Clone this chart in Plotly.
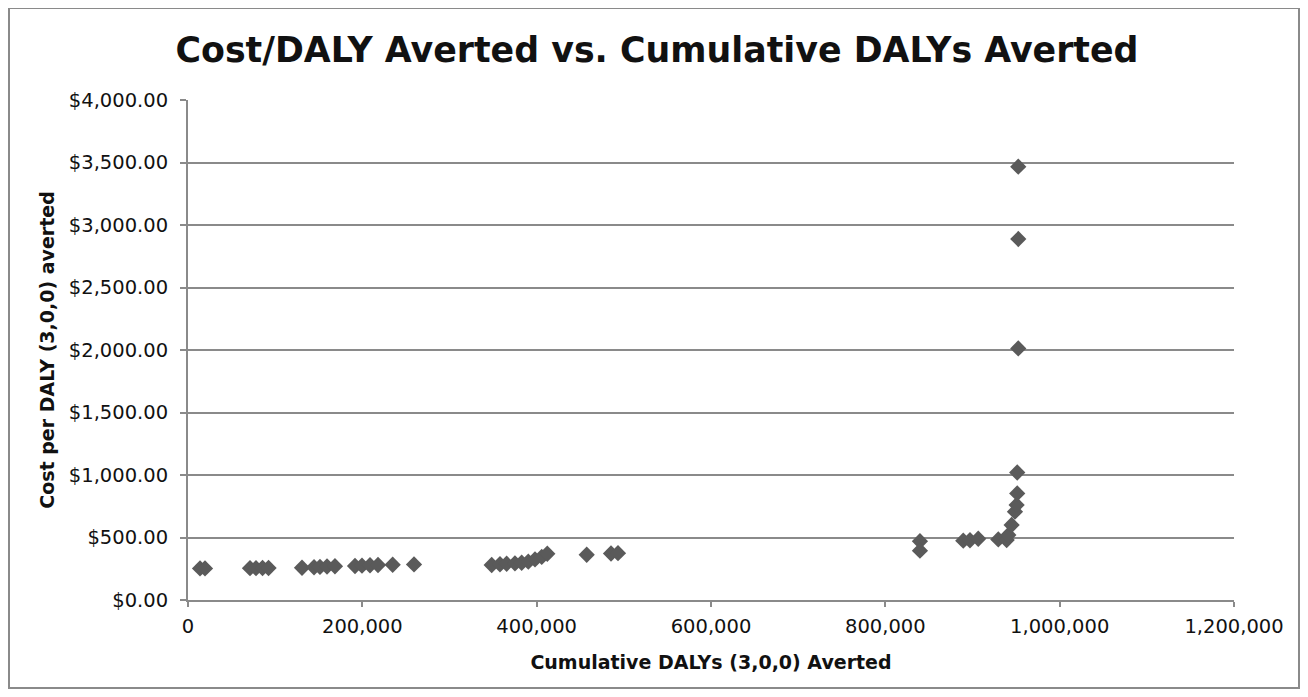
import plotly.graph_objects as go

cum_dalys = [13800, 19500, 71100, 78000, 85500, 92400,
             130800, 144600, 151400, 159500, 168600,
             191600, 199600, 208800, 218000, 234800, 259300,
             348400, 357900, 365600, 375100, 382800, 390400, 398100, 405800, 412200,
             457400, 485300, 493300,
             839700, 839700, 889400, 897100, 906600,
             929600, 939200, 941100, 944900, 948700, 950600, 951300, 951300,
             952500, 952500, 952500]
cost_per_daly = [253, 253, 255, 255, 256, 256,
                 258, 262, 265, 268, 270,
                 272, 275, 278, 280, 282, 285,
                 280, 286, 290, 293, 298, 307, 325, 345, 370,
                 362, 372, 375,
                 470, 395, 475, 478, 490,
                 485, 480, 520, 600, 707, 760, 853, 1020,
                 2013, 2888, 3467]

title_text = "Cost/DALY Averted vs. Cumulative DALYs Averted"
x_title = "Cumulative DALYs (3,0,0) Averted"
y_title = "Cost per DALY (3,0,0) averted"

FONT = "DejaVu Sans"
W, H = 1292, 681

fig = go.Figure(go.Scatter(
    x=cum_dalys, y=cost_per_daly, mode="markers",
    marker=dict(symbol="diamond", size=12.5, color="#5a5a5a", line=dict(width=0)),
    showlegend=False,
))

fig.update_layout(
    width=W, height=H,
    margin=dict(l=180, r=66, t=92, b=89),
    paper_bgcolor="white", plot_bgcolor="white",
    font=dict(family=FONT, color="#111111", size=19),
    title=dict(text="<b>" + title_text + "</b>", x=(657 - 8) / W, xref="container", xanchor="center",
               y=1 - 42 / H, yref="container", yanchor="middle",
               font=dict(family=FONT, size=34.8, color="#111111")),
    xaxis=dict(range=[0, 1200000], tickvals=[0, 200000, 400000, 600000, 800000, 1000000, 1200000],
               tickformat=",d", showgrid=False, zeroline=False,
               showline=True, linecolor="#8a8a8a", linewidth=2,
               ticks="outside", ticklen=5, tickcolor="#8a8a8a", tickwidth=2,
               ticklabelstandoff=3,
               tickfont=dict(family=FONT, size=19.5, color="#111111"),
               title=dict(text="<b>" + x_title + "</b>", standoff=18,
                          font=dict(family=FONT, size=19, color="#111111"))),
    yaxis=dict(range=[0, 4000], tickvals=[0, 500, 1000, 1500, 2000, 2500, 3000, 3500, 4000],
               tickformat="$,.2f", showgrid=True, gridcolor="#8a8a8a", gridwidth=2,
               zeroline=False, showline=True, linecolor="#8a8a8a", linewidth=2,
               ticks="outside", ticklen=6, tickcolor="#8a8a8a", tickwidth=2,
               ticklabelstandoff=8,
               tickfont=dict(family=FONT, size=19.5, color="#111111"),
               title=dict(text="<b>" + y_title + "</b>", standoff=9,
                          font=dict(family=FONT, size=19, color="#111111"))),
    shapes=[dict(type="rect", xref="paper", yref="paper",
                 x0=-179 / 1046, x1=(1291 - 180) / 1046,
                 y0=-(680 - 592) / 500, y1=1 + 92 / 500,
                 line=dict(color="#8a8a8a", width=2), fillcolor="rgba(0,0,0,0)", layer="below")],
)

fig.write_html("out.html")
